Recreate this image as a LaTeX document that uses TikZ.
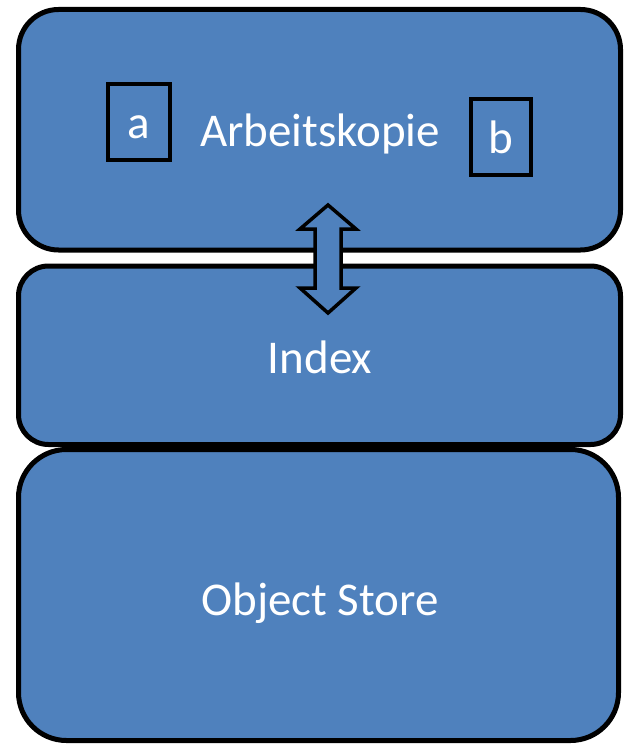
\documentclass[tikz,border=0pt]{standalone}
\usepackage{fontspec}
\setmainfont{Carlito}
\definecolor{layerblue}{HTML}{4F81BD}
\begin{document}
\begin{tikzpicture}[x=1pt,y=-1pt,
  layer/.style={draw=black,line width=5pt,fill=layerblue,rectangle,inner sep=0pt},
  filebox/.style={draw=black,line width=4pt,fill=layerblue,rectangle,inner sep=0pt},
  label/.style={text=white,font=\fontsize{47}{47}\selectfont,anchor=base,inner sep=0pt}]
\useasboundingbox (0,0) rectangle (629,746);
% three stacked layers
\node[layer,rounded corners=40pt,minimum width=602pt,minimum height=240.5pt] (work) at (319.5,129.75) {};
\node[layer,rounded corners=30pt,minimum width=602pt,minimum height=178.5pt] (index) at (319.5,355.25) {};
\node[layer,rounded corners=48pt,minimum width=600pt,minimum height=291pt] (store) at (318.5,595) {};
% files in the working copy
\node[filebox,minimum width=62pt,minimum height=76pt] (fa) at (139,122) {};
\node[filebox,minimum width=60pt,minimum height=76pt] (fb) at (501,137) {};
\node[label] (ta) at (139,139) {a};
\node[label] (tb) at (501,154) {b};
% layer titles
\node[label] (tw) at (320,147) {Arbeitskopie};
\node[label] (ti) at (320,373) {Index};
\node[label] (ts) at (320,615) {Object Store};
% two-way exchange between working copy and index
\coordinate (up) at (328,205);
\coordinate (dn) at (328,313);
\draw[line width=3.5pt,fill=layerblue,line join=miter]
  (up) -- (356,229) -- (341,229) -- (341,288) -- (356,288) -- (dn)
  -- (300,288) -- (315,288) -- (315,229) -- (300,229) -- cycle;
\end{tikzpicture}
\end{document}
